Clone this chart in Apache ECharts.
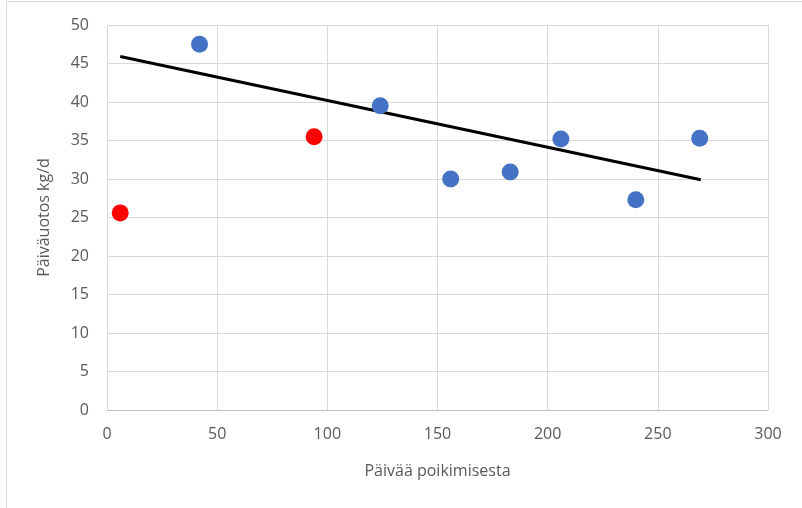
<!DOCTYPE html>
<html>
<head>
<meta charset="utf-8">
<script src="https://cdn.jsdelivr.net/npm/echarts@6/dist/echarts.min.js"></script>
<style>
  html, body { margin: 0; padding: 0; background: #fff; }
  #frame { position: absolute; left: 6px; top: 1px; width: 802px; height: 520px; border: 1px solid #d9d9d9; box-sizing: border-box; }
  #main { position: absolute; left: 0; top: 0; width: 802px; height: 508px; }
</style>
</head>
<body>
<div id="frame"></div>
<div id="main"></div>
<script>
// punaiset pisteet
var redX = [6, 94];
var redY = [25.6, 35.5];
// siniset pisteet
var blueX = [42, 124, 156, 183, 206, 240, 269];
var blueY = [47.5, 39.5, 30.0, 30.9, 35.2, 27.3, 35.3];
// trendiviiva
var trendX = [6, 269.5];
var trendY = [45.9, 29.9];

function pairs(xs, ys) {
  return xs.map(function (x, i) { return [x, ys[i]] })
}

var myChart = echarts.init(document.getElementById('main'))
var labelFont = { color: '#595959', fontSize: 16, fontFamily: 'Open Sans' }

var option = {
  animation: false,
  grid: { left: 107, right: 34, top: 25, bottom: 98 },
  xAxis: {
    type: 'value',
    min: 0, max: 300, interval: 50,
    name: 'Päivää poikimisesta',
    nameLocation: 'middle',
    nameGap: 53,
    nameTextStyle: labelFont,
    axisLabel: Object.assign({ margin: 16 }, labelFont),
    axisLine: { show: true, lineStyle: { color: '#bfbfbf' } },
    axisTick: { show: false },
    splitLine: { lineStyle: { color: '#d9d9d9', width: 1 } }
  },
  yAxis: {
    type: 'value',
    min: 0, max: 50, interval: 5,
    name: 'Päiväuotos kg/d',
    nameLocation: 'middle',
    nameGap: 55,
    nameTextStyle: labelFont,
    axisLabel: Object.assign({ margin: 18 }, labelFont),
    axisLine: { show: false },
    axisTick: { show: false },
    splitLine: { lineStyle: { color: '#d9d9d9', width: 1 } }
  },
  series: [
    {
      type: 'line',
      data: pairs(trendX, trendY),
      showSymbol: false,
      lineStyle: { color: '#000', width: 3 },
      z: 3
    },
    {
      type: 'scatter',
      data: pairs(blueX, blueY),
      symbolSize: 17,
      itemStyle: { color: '#4472C4', opacity: 1 },
      z: 4
    },
    {
      type: 'scatter',
      data: pairs(redX, redY),
      symbolSize: 17,
      itemStyle: { color: '#FF0000', opacity: 1 },
      z: 4
    }
  ]
}

myChart.setOption(option)
</script>
</body>
</html>
